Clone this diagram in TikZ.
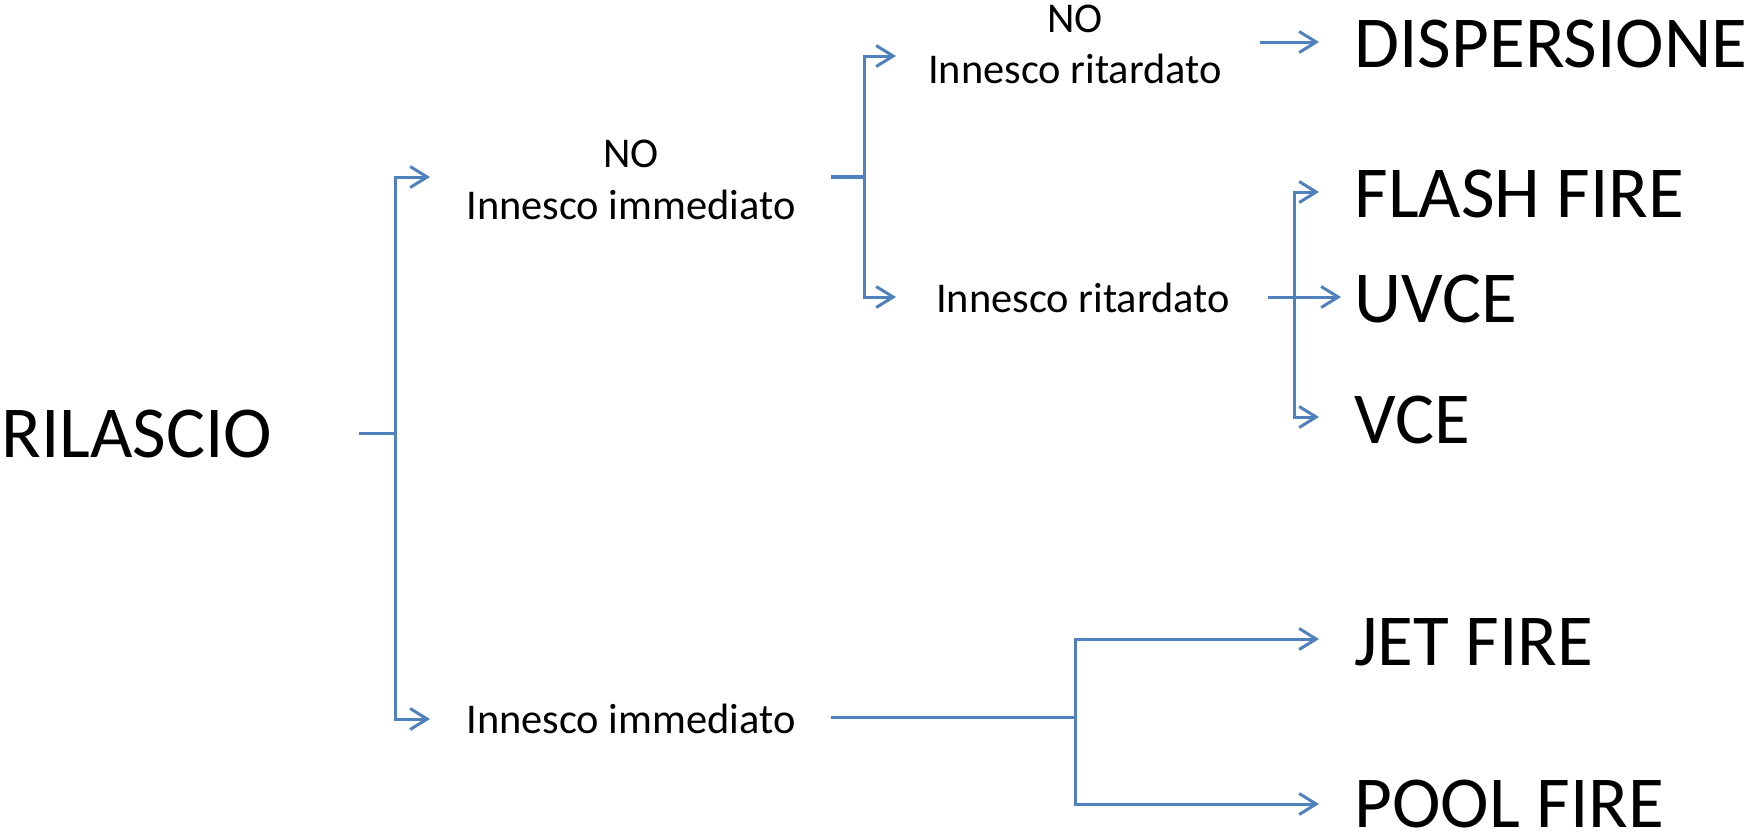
\documentclass[tikz,border=0pt]{standalone}
\usepackage{fontspec}
\setmainfont{Carlito}
\usetikzlibrary{arrows.meta}
\definecolor{linkblue}{HTML}{4F81BD}
\begin{document}
\begin{tikzpicture}[x=0.5pt,y=-0.5pt,
  small/.style={font=\fontsize{21.2}{26}\selectfont, inner sep=0pt, anchor=base},
  big/.style={font=\fontsize{36.6}{40}\selectfont, inner sep=0pt, anchor=base west},
  link/.style={draw=linkblue, line width=1.5pt},
  arr/.style={link, -{Straight Barb[length=8.5pt,width=10.5pt]}},
  stub/.style={draw=linkblue, line width=2.4pt}]
\useasboundingbox (0,0) rectangle (1754,837);
% text nodes
\node[big] (ril) at (1,457) {RILASCIO};
\node[small] (no1) at (631,167) {NO};
\node[small] (imm1) at (631,219) {Innesco immediato};
\node[small] (imm2) at (631,733) {Innesco immediato};
\node[small] (no2) at (1075,32) {NO};
\node[small] (rit1) at (1075,83) {Innesco ritardato};
\node[small] (rit2) at (1083,312) {Innesco ritardato};
\node[big] (disp) at (1354,67) {DISPERSIONE};
\node[big] (flash) at (1354,217) {FLASH FIRE};
\node[big] (uvce) at (1354,322) {UVCE};
\node[big] (vce) at (1354,443) {VCE};
\node[big] (jet) at (1354,665) {JET FIRE};
\node[big] (pool) at (1354,827) {POOL FIRE};
% junctions and ends
\coordinate (s0) at (359,433); \coordinate (j0) at (395,433);
\coordinate (t1) at (430,177); \coordinate (t2) at (430,719);
\coordinate (s1) at (831,177); \coordinate (j1) at (864,177);
\coordinate (t3) at (896,56);  \coordinate (t4) at (896,297);
\coordinate (d0) at (1260,42); \coordinate (d1) at (1319,42);
\coordinate (u0) at (1268,297); \coordinate (u1) at (1341,297);
\coordinate (j2) at (1294,297);
\coordinate (f1) at (1319,192); \coordinate (v1) at (1319,417);
\coordinate (s2) at (831,717); \coordinate (j3) at (1075,717);
\coordinate (t5) at (1319,639); \coordinate (t6) at (1319,804);
% connectors
\draw[link] (s0) -- (j0);
\draw[arr] (j0) |- (t1);
\draw[arr] (j0) |- (t2);
\draw[stub] (s1) -- (j1);
\draw[arr] (j1) |- (t3);
\draw[arr] (j1) |- (t4);
\draw[arr] (d0) -- (d1);
\draw[arr] (u0) -- (u1);
\draw[arr] (j2) |- (f1);
\draw[arr] (j2) |- (v1);
\draw[link] (s2) -- (j3);
\draw[arr] (j3) |- (t5);
\draw[arr] (j3) |- (t6);
\end{tikzpicture}
\end{document}
